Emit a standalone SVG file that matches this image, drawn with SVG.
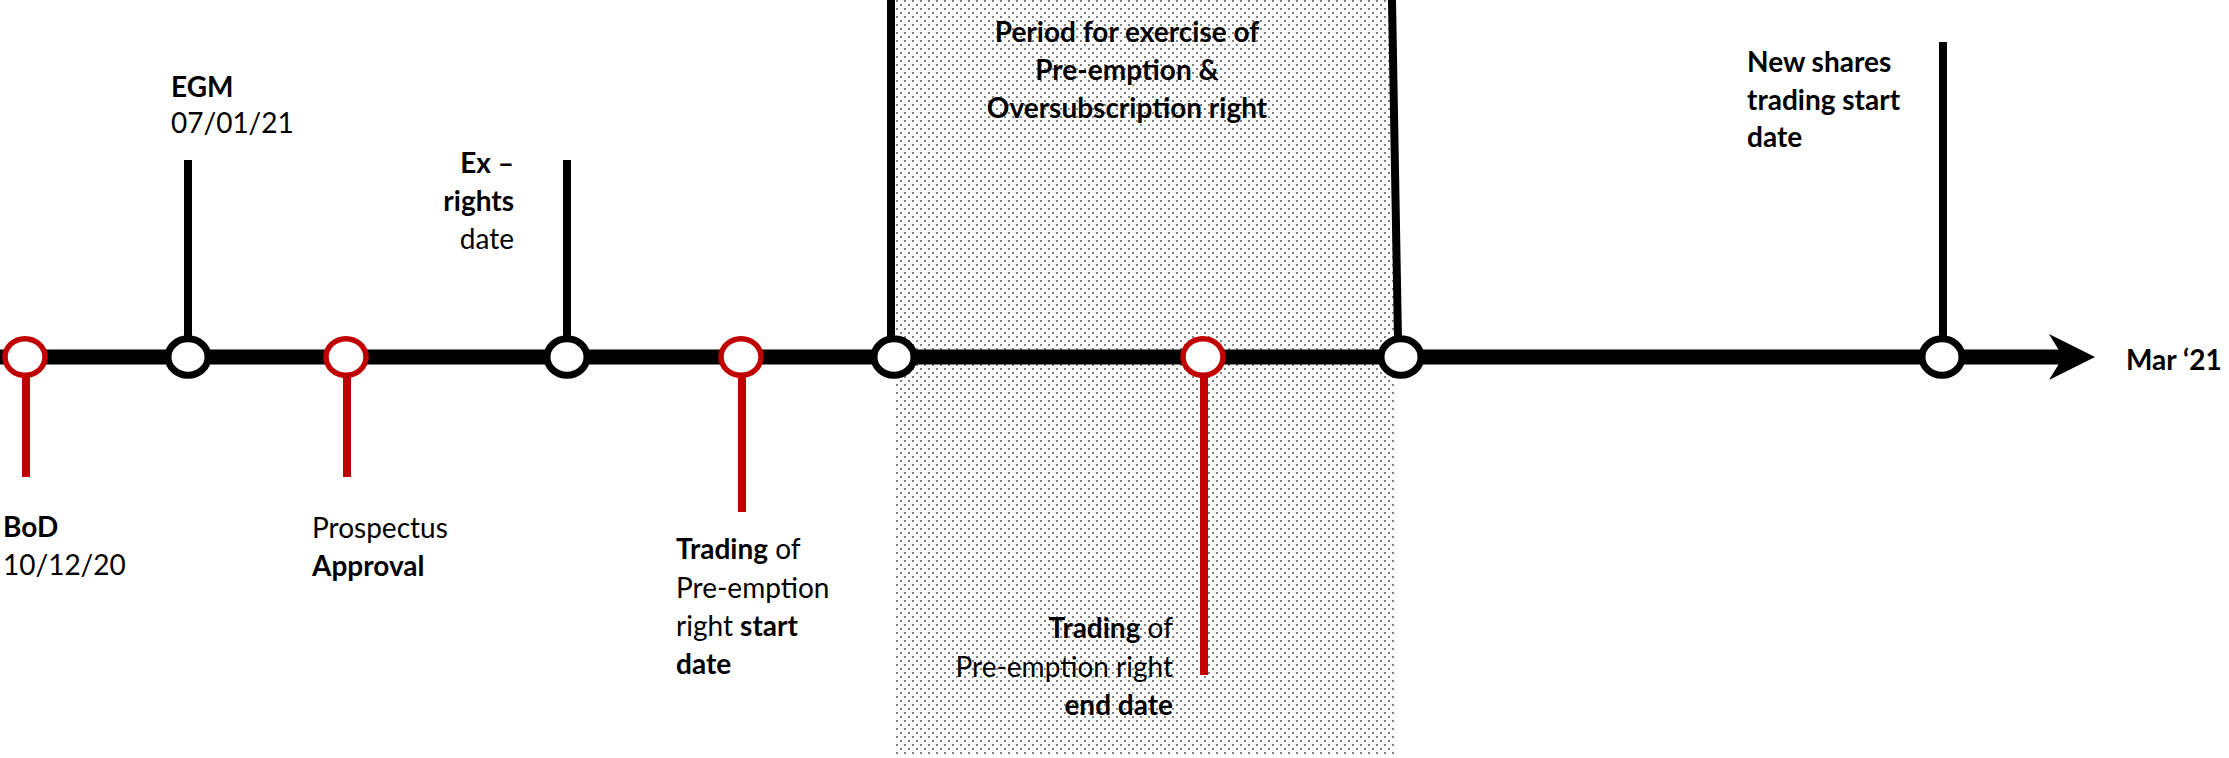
<svg xmlns="http://www.w3.org/2000/svg" width="2229" height="758" viewBox="0 0 2229 758">
<defs>
<pattern id="dots" x="0" y="0" width="8" height="8" patternUnits="userSpaceOnUse">
<rect x="0" y="0" width="2" height="2" fill="#808080"/>
<rect x="4" y="4" width="2" height="2" fill="#808080"/>
</pattern>
<style>
text{font-family:Lato,"Liberation Sans",sans-serif;font-size:28px;fill:#000}
.b{font-weight:bold}
.r{text-anchor:end}
.m{text-anchor:middle}
.stemK{stroke:#000;stroke-width:8;fill:none}
.stemR{stroke:#C00000;stroke-width:8;fill:none}
.nodeK{fill:#fff;stroke:#000;stroke-width:7}
.nodeR{fill:#fff;stroke:#C00000;stroke-width:5.5}
</style>
</defs>
<rect width="2229" height="758" fill="#fff"/>
<g id="period">
<rect x="895" y="0" width="501" height="755" fill="url(#dots)"/>
<text class="b m" x="1127" y="42">Period for exercise of</text>
<text class="b m" x="1127" y="80">Pre-emption &amp;</text>
<text class="b m" x="1127" y="118">Oversubscription right</text>
</g>
<g id="connectors">
<line x1="0" y1="357" x2="2063" y2="357" stroke="#000" stroke-width="15"/>
<polygon points="2049,334 2095,357 2049,380 2063,357" fill="#000"/>
<line class="stemR" x1="26" y1="370" x2="26" y2="477"/>
<line class="stemK" x1="188" y1="160" x2="188" y2="340"/>
<line class="stemR" x1="347" y1="370" x2="347" y2="477"/>
<line class="stemK" x1="567" y1="160" x2="567" y2="340"/>
<line class="stemR" x1="742" y1="370" x2="742" y2="512"/>
<line class="stemK" x1="891" y1="0" x2="891" y2="340"/>
<line class="stemR" x1="1204" y1="370" x2="1204" y2="675"/>
<line class="stemK" x1="1392" y1="0" x2="1398" y2="340"/>
<line class="stemK" x1="1943" y1="42" x2="1943" y2="340"/>
</g>
<g id="bod">
<ellipse class="nodeR" cx="25" cy="357" rx="20" ry="18.3"/>
<text class="b" x="3" y="537">BoD</text>
<text x="3" y="575">10/12/20</text>
</g>
<g id="egm">
<ellipse class="nodeK" cx="188" cy="357" rx="20" ry="18.3"/>
<text class="b" x="171" y="97">EGM</text>
<text x="171" y="133">07/01/21</text>
</g>
<g id="prospectus">
<ellipse class="nodeR" cx="346" cy="357" rx="20" ry="18.3"/>
<text x="312" y="538">Prospectus</text>
<text class="b" x="312" y="576">Approval</text>
</g>
<g id="exrights">
<ellipse class="nodeK" cx="567" cy="357" rx="20" ry="18.3"/>
<text class="b r" x="514" y="173">Ex –</text>
<text class="b r" x="514" y="211">rights</text>
<text class="r" x="514" y="249">date</text>
</g>
<g id="tradestart">
<ellipse class="nodeR" cx="741" cy="357" rx="20" ry="18.3"/>
<text x="676" y="559"><tspan class="b">Trading</tspan> of</text>
<text x="676" y="598">Pre-emption</text>
<text x="676" y="636">right <tspan class="b">start</tspan></text>
<text class="b" x="676" y="674">date</text>
</g>
<g id="periodstart">
<ellipse class="nodeK" cx="894" cy="357" rx="20" ry="18.3"/>
</g>
<g id="tradeend">
<ellipse class="nodeR" cx="1203" cy="357" rx="20" ry="18.3"/>
<text class="r" x="1173" y="638"><tspan class="b">Trading</tspan> of</text>
<text class="r" x="1173" y="677">Pre-emption right</text>
<text class="b r" x="1173" y="715">end date</text>
</g>
<g id="periodend">
<ellipse class="nodeK" cx="1401" cy="357" rx="20" ry="18.3"/>
</g>
<g id="newshares">
<ellipse class="nodeK" cx="1942" cy="357" rx="20" ry="18.3"/>
<text class="b" x="1747" y="72">New shares</text>
<text class="b" x="1747" y="110">trading start</text>
<text class="b" x="1747" y="147">date</text>
</g>
<g id="end">
<text class="b" x="2126" y="370">Mar ‘21</text>
</g>
</svg>
